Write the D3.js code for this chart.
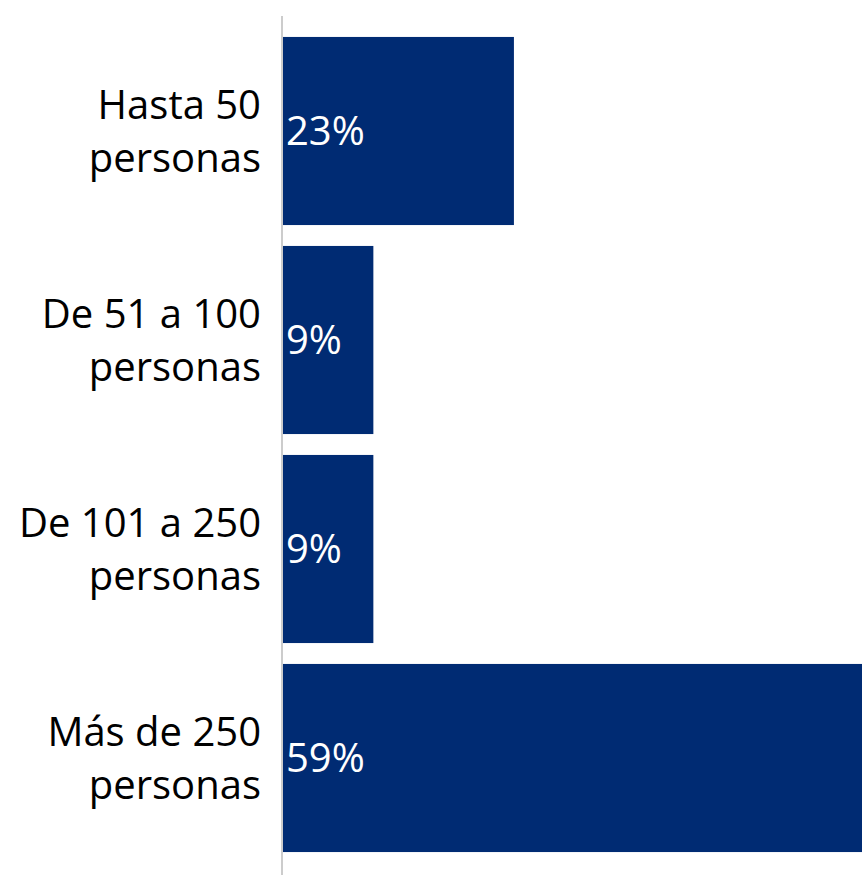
<!DOCTYPE html>
<html>
  <head>
    <script src="https://d3js.org/d3.v7.min.js"></script>
    <style>
      body {margin: 0; background: #fff;}
      svg {display: block;}
      text {font-family: "Open Sans", sans-serif;}
    </style>
  </head>
  <body>
    <svg class="chart" width="862" height="875"></svg>
  </body>
  <script>
    // category labels, split in two lines as in the picture
    var categories = ["Hasta 50 personas", "De 51 a 100 personas", "De 101 a 250 personas", "Más de 250 personas"];
    var labelLines = [["Hasta 50", "personas"], ["De 51 a 100", "personas"], ["De 101 a 250", "personas"], ["Más de 250", "personas"]];
    var values = [0.23, 0.09, 0.09, 0.59];

    var svg = d3.select(".chart");

    var axisX = 283;
    var x = d3.scaleLinear()
              .domain([0, 1]).range([axisX, axisX + 1004]);
    var y = d3.scaleBand()
              .domain(categories).range([26.5, 862.5])
              .paddingInner(0.1).paddingOuter(0.05);

    svg.selectAll("rect.bar")
      .data(values)
      .enter().append("rect")
      .attr("class", "bar")
      .attr("x", x(0))
      .attr("y", function(d, i) {return y(categories[i])})
      .attr("width", function(d) {return x(d) - x(0)})
      .attr("height", y.bandwidth())
      .attr("fill", "#002b73");

    // value labels inside bars
    svg.selectAll("text.value")
      .data(values)
      .enter().append("text")
      .attr("class", "value")
      .attr("x", x(0) + 3)
      .attr("y", function(d, i) {return y(categories[i]) + y.bandwidth() / 2})
      .attr("dy", "0.35em")
      .attr("fill", "#fff")
      .style("font-size", "40px")
      .text(function(d) {return d3.format(".0%")(d)});

    // category labels, two lines each
    var lineH = 53;
    var lab = svg.selectAll("text.cat")
      .data(labelLines)
      .enter().append("text")
      .attr("class", "cat")
      .attr("text-anchor", "end")
      .attr("fill", "#000")
      .style("font-size", "40px");
    lab.selectAll("tspan")
      .data(function(d, i) {return d.map(function(t, j) {return {t: t, i: i, j: j}})})
      .enter().append("tspan")
      .attr("x", 261)
      .attr("y", function(d) {return y(categories[d.i]) + y.bandwidth() / 2 + (d.j - 0.5) * lineH})
      .attr("dy", "0.35em")
      .text(function(d) {return d.t});

    // vertical axis line
    svg.append("line")
      .attr("x1", axisX - 1).attr("x2", axisX - 1)
      .attr("y1", 16).attr("y2", 875)
      .attr("stroke", "#cccccc")
      .attr("stroke-width", 2);
  </script>
</html>
